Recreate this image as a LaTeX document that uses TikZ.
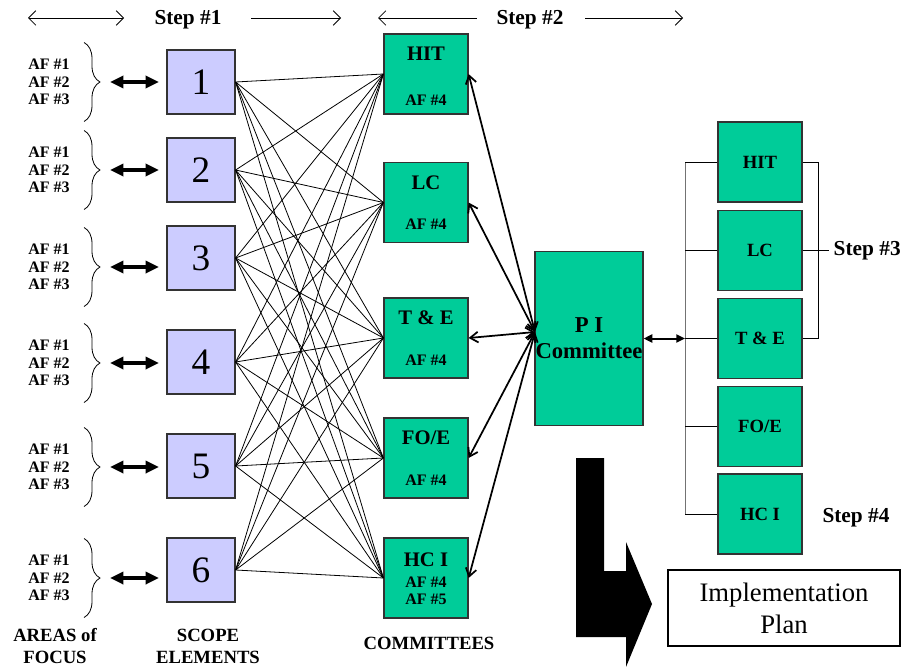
\documentclass[tikz,border=0pt]{standalone}
\usepackage{fontspec}
\setmainfont{Liberation Serif}
\usetikzlibrary{arrows.meta}
\usetikzlibrary{decorations.pathreplacing}
\usetikzlibrary{calc}
\definecolor{scopecol}{HTML}{CCCCFF}
\definecolor{comcol}{HTML}{00CC99}
\tikzset{sbox/.style={draw=black!80, line width=.9pt, fill=scopecol, minimum width=51pt, minimum height=48pt, inner sep=0pt, font=\fontsize{28}{28}\selectfont}}
\tikzset{cbox/.style={draw=black!80, line width=.9pt, fill=comcol, minimum width=63pt, minimum height=60pt, inner sep=0pt}}
\tikzset{cname/.style={font=\fontsize{15.5}{15.5}\selectfont\bfseries}}
\tikzset{rname/.style={font=\fontsize{14}{14}\selectfont\bfseries}}
\tikzset{af/.style={font=\fontsize{12}{13}\selectfont\bfseries, align=center, inner sep=0pt}}
\tikzset{steplab/.style={font=\fontsize{16}{16}\selectfont\bfseries}}
\tikzset{foot/.style={font=\fontsize{14}{16.5}\selectfont\bfseries, align=center}}
\tikzset{brc/.style={decorate, decoration={brace, amplitude=12pt}, line width=.6pt}}
\tikzset{steparr/.style={line width=.6pt, >={Straight Barb[length=5.5pt,width=11pt]}}}
\tikzset{fatarr/.style={line width=2.6pt, {Triangle[length=10pt,width=9pt]}-{Triangle[length=10pt,width=9pt]}}}
\tikzset{carr/.style={line width=1.3pt, {Straight Barb[length=6pt,width=8pt]}-{Straight Barb[length=6pt,width=8pt]}}}
\tikzset{parr/.style={line width=1.5pt, {Triangle[length=6.5pt,width=6pt]}-{Triangle[length=6.5pt,width=6pt]}}}
\tikzset{conn/.style={line width=.75pt}}
\begin{document}
\begin{tikzpicture}[x=.75pt, y=-.75pt]
  \useasboundingbox (0,0) rectangle (907,667);
  % steps along the top
  \node[steplab] (step1) at (188,20) {Step \#1};
  \node[steplab] (step2) at (530,20) {Step \#2};
  \coordinate (a1) at (28,18);
  \coordinate (a2) at (124,18);
  \coordinate (a3) at (251,18);
  \coordinate (a4) at (341,18);
  \coordinate (a5) at (378,18);
  \coordinate (a6) at (477,18);
  \coordinate (a7) at (585,18);
  \coordinate (a8) at (683,18);
  \draw[steparr,<->] (a1) -- (a2);
  \draw[steparr,->] (a3) -- (a4);
  \draw[steparr,<-] (a5) -- (a6);
  \draw[steparr,->] (a7) -- (a8);
  % areas of focus and scope elements
  \foreach \n/\y/\b in {1/82/82, 2/170/170, 3/258/267, 4/362/363, 5/466/467, 6/570/578} {
    \node[sbox] (s\n) at (201,\y) {\n};
    \node[af] (af\n) at (49,\b) {AF \#1\\AF \#2\\AF \#3};
    \draw[brc] (84,\b-39.5) -- (84,\b+39.5);
    \coordinate (la\n) at (110,\b);
    \coordinate (ra\n) at (159,\b);
    \draw[fatarr] (la\n) -- (ra\n);
  }
  % committees
  \node[cbox] (cHIT) at (426,74) {};
  \node[cname] (tHIT) at (426,54) {HIT};
  \node[af] (fHIT) at (426,100) {AF \#4};
  \node[cbox] (cLC) at (426,202.5) {};
  \node[cname] (tLC) at (426,183) {LC};
  \node[af] (fLC) at (426,224) {AF \#4};
  \node[cbox] (cTE) at (426,338) {};
  \node[cname] (tTE) at (426,318) {T \& E};
  \node[af] (fTE) at (426,360) {AF \#4};
  \node[cbox] (cFOE) at (426,458) {};
  \node[cname] (tFOE) at (426,438) {FO/E};
  \node[af] (fFOE) at (426,480) {AF \#4};
  \node[cbox] (cHCI) at (426,578) {};
  \node[cname] (tHCI) at (426,560) {HC I};
  \node[af, align=center] (fHCI) at (426,591) {AF \#4\\AF \#5};
  \foreach \s in {1,...,6}
    \foreach \c in {HIT,LC,TE,FOE,HCI}
      \draw[line width=.6pt] (s\s.east) -- (c\c.west);
  % p i committee
  \node[cbox, minimum width=81pt, minimum height=131pt, align=center, font=\fontsize{17}{19.5}\selectfont\bfseries] (PI) at (589,338.5) {P I\\Committee};
  \coordinate (pin) at (535,332);
  \foreach \c in {HIT,LC,TE,FOE,HCI}
    \draw[carr] (c\c.east) -- (pin);
  % step 3 column
  \node[cbox, rname] (rHIT) at (760,162) {HIT};
  \node[cbox, rname] (rLC) at (760,250.5) {LC};
  \node[cbox, rname] (rTE) at (760,338.5) {T \& E};
  \node[cbox, rname] (rFOE) at (760,426.5) {FO/E};
  \node[cbox, rname] (rHCI) at (760,514) {HC I};
  \coordinate (bus) at (685,338.5);
  \draw[conn, black!55] (bus |- rHIT.west) -- (bus |- rHCI.west);
  \foreach \r in {HIT,LC,TE,FOE,HCI}
    \draw[conn] (r\r.west) -- (r\r.west -| bus);
  \draw[parr] (PI.east) -- (bus);
  \node[steplab, anchor=west] (step3) at (829,250.5) {Step \#3};
  \draw[conn] (rHIT.east) -- ++(16,0) |- (rTE.east);
  \draw[conn] (rLC.east) -- (step3.west);
  \node[steplab] (step4) at (856,518) {Step \#4};
  % implementation
  \fill (576,458) -- (604,458) -- (604,571) -- (626,571) -- (626,542) -- (652,604)
    -- (626,667) -- (626,637) -- (576,637) -- cycle;
  \node[draw, line width=.9pt, minimum width=174pt, minimum height=57pt, align=center, font=\fontsize{20}{24}\selectfont] (impl) at (784,608) {Implementation\\Plan};
  % column titles
  \node[foot] (areas) at (55,646) {AREAS of\\FOCUS};
  \node[foot] (scope) at (208,646) {SCOPE\\ELEMENTS};
  \node[foot] (comm) at (429,643) {COMMITTEES};
\end{tikzpicture}
\end{document}
